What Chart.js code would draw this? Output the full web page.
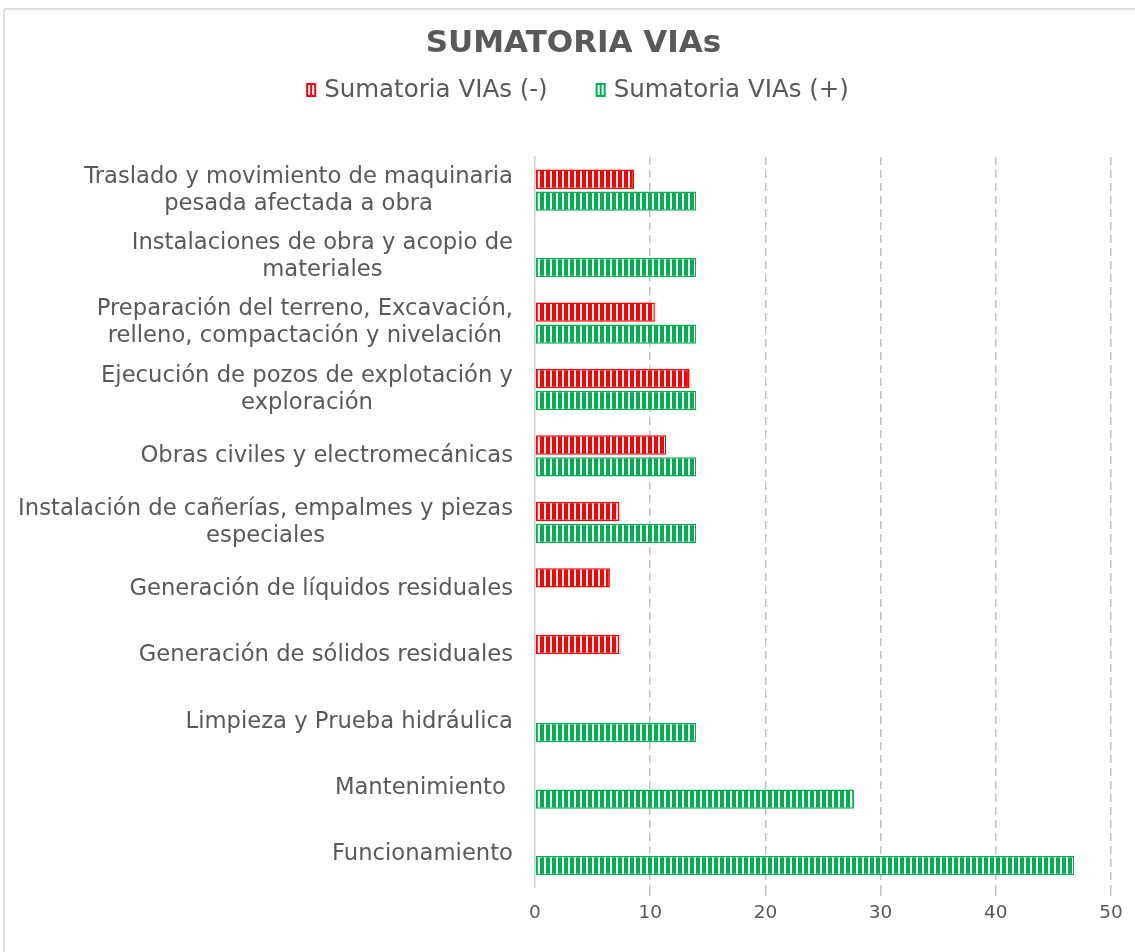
<!DOCTYPE html>
<html>
<head>
<meta charset="utf-8">
<script src="https://cdn.jsdelivr.net/npm/chart.js@4.4.1/dist/chart.umd.min.js"></script>
<style>
  html, body { margin: 0; padding: 0; background: #ffffff; overflow: hidden; }
  #wrap { position: relative; width: 1135px; height: 952px; }
  #wrap canvas { position: absolute; left: 0; top: 0; }
  #frame { position: absolute; left: 3px; top: 8px; width: 1150px; height: 970px;
           border: 2px solid #dedede; border-radius: 4px; pointer-events: none; }
</style>
</head>
<body>
<div id="wrap">
  <canvas id="chart" width="1135" height="952"></canvas>
  <div id="frame"></div>
</div>
<script>
// Activities (top to bottom) and the summed impact values for each one
const chartTitle = 'SUMATORIA VIAs';
const categories = [
  ['Traslado y movimiento de maquinaria', 'pesada afectada a obra'],
  ['Instalaciones de obra y acopio de', 'materiales'],
  ['Preparación del terreno, Excavación,', 'relleno, compactación y nivelación'],
  ['Ejecución de pozos de explotación y', 'exploración'],
  'Obras civiles y electromecánicas',
  ['Instalación de cañerías, empalmes y piezas', 'especiales'],
  'Generación de líquidos residuales',
  'Generación de sólidos residuales',
  'Limpieza y Prueba hidráulica',
  'Mantenimiento ',
  'Funcionamiento'
];
const seriesNames = ['Sumatoria VIAs (-)', 'Sumatoria VIAs (+)'];
const negativeValues = [8.6, null, 10.4, 13.4, 11.4, 7.3, 6.5, 7.3, null, null, null];
const positiveValues = [14, 14, 14, 14, 14, 14, null, null, 14, 27.7, 46.8];
const xTickValues = [0, 10, 20, 30, 40, 50];

const RED = '#ff0000';
const GREEN = '#00b050';
const TEXT = '#595959';
const FONT = '"DejaVu Sans", Verdana, sans-serif';

const canvas = document.getElementById('chart');
const mainCtx = canvas.getContext('2d');

// Vertical stripe fill: solid colour with thin white gaps
function stripes(color) {
  const tile = document.createElement('canvas');
  tile.width = 6; tile.height = 6;
  const g = tile.getContext('2d');
  g.fillStyle = color; g.fillRect(0, 0, 6, 6);
  g.fillStyle = '#ffffff'; g.fillRect(4, 0, 2, 6);
  return mainCtx.createPattern(tile, 'repeat');
}

// Title, legend row and wrapped category labels
const decorations = {
  id: 'decorations',
  afterDraw(chart) {
    const ctx = chart.ctx;
    const ys = chart.scales.y;
    ctx.save();

    // title
    ctx.fillStyle = TEXT;
    ctx.font = 'bold 31px ' + FONT;
    ctx.textAlign = 'center';
    ctx.textBaseline = 'middle';
    ctx.fillText(chartTitle, 573.5, 44);

    // legend
    ctx.font = '24.5px ' + FONT;
    ctx.textAlign = 'left';
    const colors = [RED, GREEN];
    const boxW = 10, boxH = 14, boxGap = 8, itemGap = 48;
    const widths = seriesNames.map(s => ctx.measureText(s).width);
    let total = 0;
    widths.forEach((w, i) => { total += boxW + boxGap + w + (i < widths.length - 1 ? itemGap : 0); });
    let x = 577.5 - total / 2;
    const ly = 90;
    seriesNames.forEach((name, i) => {
      ctx.fillStyle = colors[i];
      ctx.fillRect(x, ly - boxH / 2, boxW, boxH);
      ctx.fillStyle = '#ffffff';
      ctx.fillRect(x + 2, ly - boxH / 2 + 2, 2, boxH - 4);
      ctx.fillRect(x + 6, ly - boxH / 2 + 2, 2, boxH - 4);
      ctx.fillStyle = TEXT;
      ctx.fillText(name, x + boxW + boxGap, ly + 1);
      x += boxW + boxGap + widths[i] + itemGap;
    });

    // category labels: block right-aligned to the axis, lines centred within it
    ctx.font = '22.7px ' + FONT;
    ctx.textAlign = 'center';
    ctx.fillStyle = TEXT;
    const right = ys.right - 22;
    const lineH = 27;
    categories.forEach((lab, i) => {
      const lines = Array.isArray(lab) ? lab : [lab];
      const w = Math.max(...lines.map(l => ctx.measureText(l).width));
      const cx = right - w / 2;
      const cy = ys.getPixelForValue(i);
      lines.forEach((ln, k) => {
        ctx.fillText(ln, cx, cy + (k - (lines.length - 1) / 2) * lineH);
      });
    });
    ctx.restore();
  }
};

new Chart(canvas, {
  type: 'bar',
  data: {
    labels: categories.map(c => Array.isArray(c) ? c.join(' ') : c),
    datasets: [
      {
        label: seriesNames[0],
        data: negativeValues,
        backgroundColor: stripes(RED),
        borderColor: RED,
        borderWidth: 1.5,
        borderSkipped: false
      },
      {
        label: seriesNames[1],
        data: positiveValues,
        backgroundColor: stripes(GREEN),
        borderColor: GREEN,
        borderWidth: 1.5,
        borderSkipped: false
      }
    ]
  },
  options: {
    indexAxis: 'y',
    responsive: false,
    animation: false,
    categoryPercentage: 0.66,
    barPercentage: 0.88,
    layout: { padding: { top: 157, right: 24, bottom: 22, left: 0 } },
    plugins: {
      legend: { display: false },
      title: { display: false },
      tooltip: { enabled: false }
    },
    scales: {
      x: {
        type: 'linear',
        min: xTickValues[0],
        max: xTickValues[xTickValues.length - 1],
        afterBuildTicks(scale) { scale.ticks = xTickValues.map(v => ({ value: v })); },
        ticks: { color: TEXT, font: { family: FONT, size: 18.5 }, padding: 6 },
        grid: {
          color: c => (c.tick && c.tick.value === 0) ? 'rgba(0,0,0,0)' : '#c0c0c0',
          lineWidth: 1.5,
          drawTicks: true,
          tickLength: 8
        },
        border: { display: false, dash: [8, 5] }
      },
      y: {
        type: 'category',
        ticks: { display: false },
        grid: { display: false, drawTicks: false },
        border: { display: true, color: '#d0d0d0', width: 1.5 },
        afterFit(scale) { scale.width = 535; }
      }
    }
  },
  plugins: [decorations]
});
</script>
</body>
</html>
